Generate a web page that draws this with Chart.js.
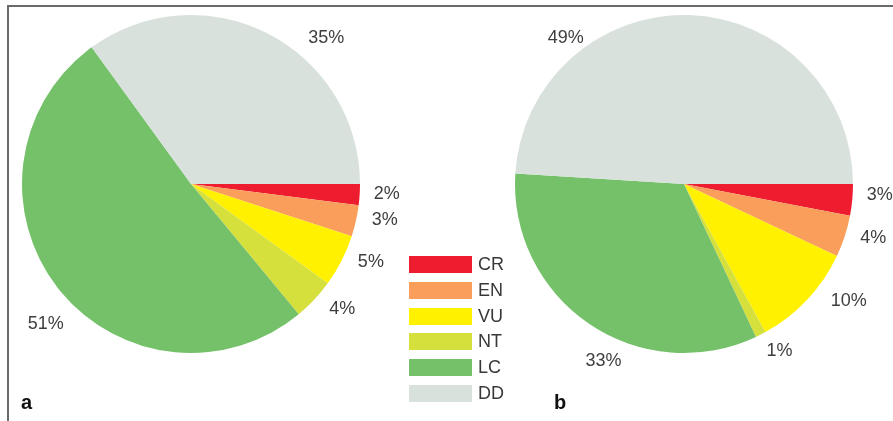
<!DOCTYPE html>
<html>
<head>
<meta charset="utf-8">
<script src="https://cdn.jsdelivr.net/npm/chart.js@4.4.0/dist/chart.umd.min.js"></script>
<style>
  body { margin: 0; background: #fff; }
  #wrap { position: relative; width: 893px; height: 421px; overflow: hidden; font-family: "Liberation Sans", Arial, sans-serif; }
  #frame { position: absolute; left: 7px; top: 5px; right: -10px; bottom: -10px; border-top: 2px solid #6a6a6a; border-left: 2px solid #6a6a6a; }
  canvas { position: absolute; top: 0; }
  #pieA { left: 0; }
  #pieB { left: 460px; }
  #legend { position: absolute; left: 409px; top: 256px; }
  .item { position: relative; height: 25.8px; }
  .box { position: absolute; left: 0; top: 0; width: 63px; height: 17px; }
  .txt { position: absolute; left: 69px; top: -2px; font-size: 18px; color: #383838; line-height: 21px; }
  .panel { position: absolute; font-size: 20px; font-weight: bold; color: #111; }
</style>
</head>
<body>
<div id="wrap">
  <div id="frame"></div>
  <canvas id="pieA" width="440" height="400"></canvas>
  <canvas id="pieB" width="433" height="400"></canvas>
  <div id="legend"></div>
  <div class="panel" style="left:21px; top:391px;">a</div>
  <div class="panel" style="left:554px; top:391px;">b</div>
</div>
<script>
// IUCN categories and their colours
const categories = ['CR', 'EN', 'VU', 'NT', 'LC', 'DD'];
const colors = ['#ee1c2f', '#f99f5b', '#fff100', '#d6e03d', '#74c169', '#d8e1dc'];

// percentage per category for each panel
const valuesA = [2, 3, 5, 4, 51, 35];
const valuesB = [3, 4, 10, 1, 33, 49];

// percentage labels placed just outside the pie
const outsideLabels = {
  id: 'outsideLabels',
  afterDraw(chart, args, opts) {
    const ctx = chart.ctx;
    const meta = chart.getDatasetMeta(0);
    const values = chart.data.datasets[0].data;
    ctx.save();
    ctx.font = '18px "Liberation Sans", Arial, sans-serif';
    ctx.fillStyle = '#3e3e3e';
    ctx.textAlign = 'center';
    ctx.textBaseline = 'middle';
    meta.data.forEach((arc, i) => {
      const p = arc.getProps(['x', 'y', 'startAngle', 'endAngle', 'outerRadius'], true);
      const a = (p.startAngle + p.endAngle) / 2 + (opts.shift[i] || 0) * Math.PI / 180;
      const r = p.outerRadius + opts.gap[i];
      ctx.fillText(values[i] + '%', p.x + r * Math.cos(a), p.y + r * Math.sin(a));
    });
    ctx.restore();
  }
};

function makePie(id, values, padding, shift, gap) {
  return new Chart(document.getElementById(id), {
    type: 'pie',
    data: {
      labels: categories,
      datasets: [{
        data: values,
        backgroundColor: colors,
        borderWidth: 0
      }]
    },
    options: {
      responsive: false,
      animation: false,
      rotation: 90,
      layout: { padding: padding },
      plugins: {
        legend: { display: false },
        tooltip: { enabled: false },
        outsideLabels: { gap: gap, shift: shift }
      }
    },
    plugins: [outsideLabels]
  });
}

makePie('pieA', valuesA, { left: 21, right: 79, top: 15, bottom: 47 },
  [-0.7, -2.1, -3.6, -3.7, -6.2, 15.8], [27, 28, 27, 27, 33, 30]);
makePie('pieB', valuesB, { left: 54, right: 39, top: 15, bottom: 47 },
  [-2.2, -2, -7.8, -2.8, -9.7, -40.8], [27, 28, 33, 23, 25, 19]);

// shared legend between the two pies
const legend = document.getElementById('legend');
categories.forEach((c, i) => {
  const row = document.createElement('div');
  row.className = 'item';
  row.innerHTML = '<div class="box" style="background:' + colors[i] + '"></div><div class="txt">' + c + '</div>';
  legend.appendChild(row);
});
</script>
</body>
</html>
